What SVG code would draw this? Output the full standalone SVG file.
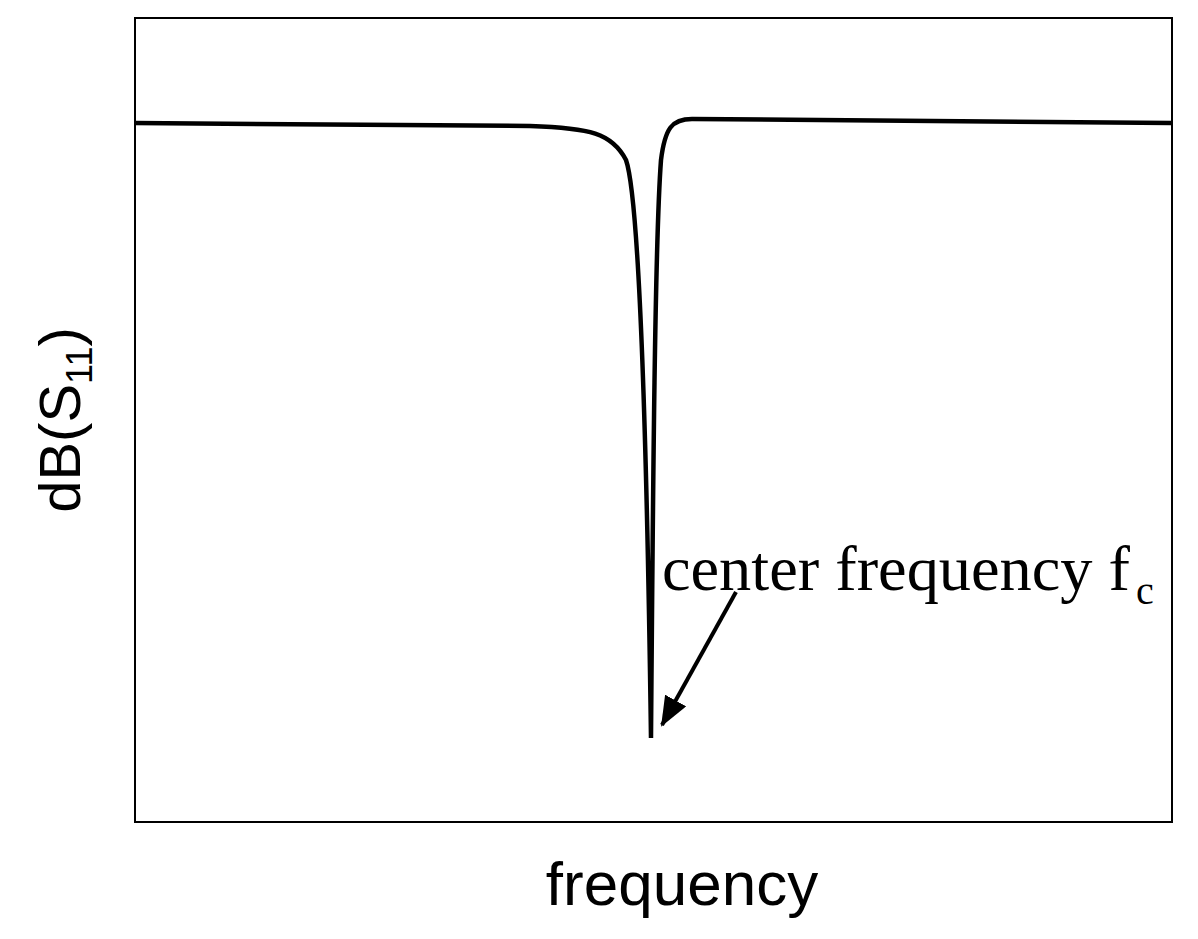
<svg xmlns="http://www.w3.org/2000/svg" width="1198" height="939" viewBox="0 0 1198 939">
<defs><marker id="a2" markerWidth="30" markerHeight="24" refX="28" refY="12" orient="auto" markerUnits="userSpaceOnUse"><path d="M0,0 L30,12 L0,24 z" fill="#000"/></marker></defs>
<rect width="1198" height="939" fill="#fff"/>
<g id="frame"><rect x="135" y="18" width="1037" height="804" fill="none" stroke="#000" stroke-width="2"/></g>
<g id="curve"><path d="M135,123 L530,126 C590,128 612,133 626,160 C640,200 647,450 651,738 C653,480 655,240 661,160 C665,128 672,119 692,119 L1172,123" fill="none" stroke="#000" stroke-width="4.5"/></g>
<g id="connectors"><line x1="736" y1="592" x2="662" y2="725" stroke="#000" stroke-width="4" marker-end="url(#a2)"/></g>
<g id="labels" font-family="Liberation Serif, serif">
<text x="662" y="590" font-size="64" textLength="468" lengthAdjust="spacingAndGlyphs">center frequency f</text>
<text x="1136" y="604" font-size="40">c</text>
</g>
<g id="axes" font-family="Liberation Sans, Arial, sans-serif" fill="#000">
<text x="682" y="905" font-size="62" text-anchor="middle">frequency</text>
<text transform="translate(80,420) rotate(-90)" font-size="58" text-anchor="middle">dB(S<tspan font-size="36" dy="12">11</tspan><tspan dy="-12">)</tspan></text>
</g>
</svg>
